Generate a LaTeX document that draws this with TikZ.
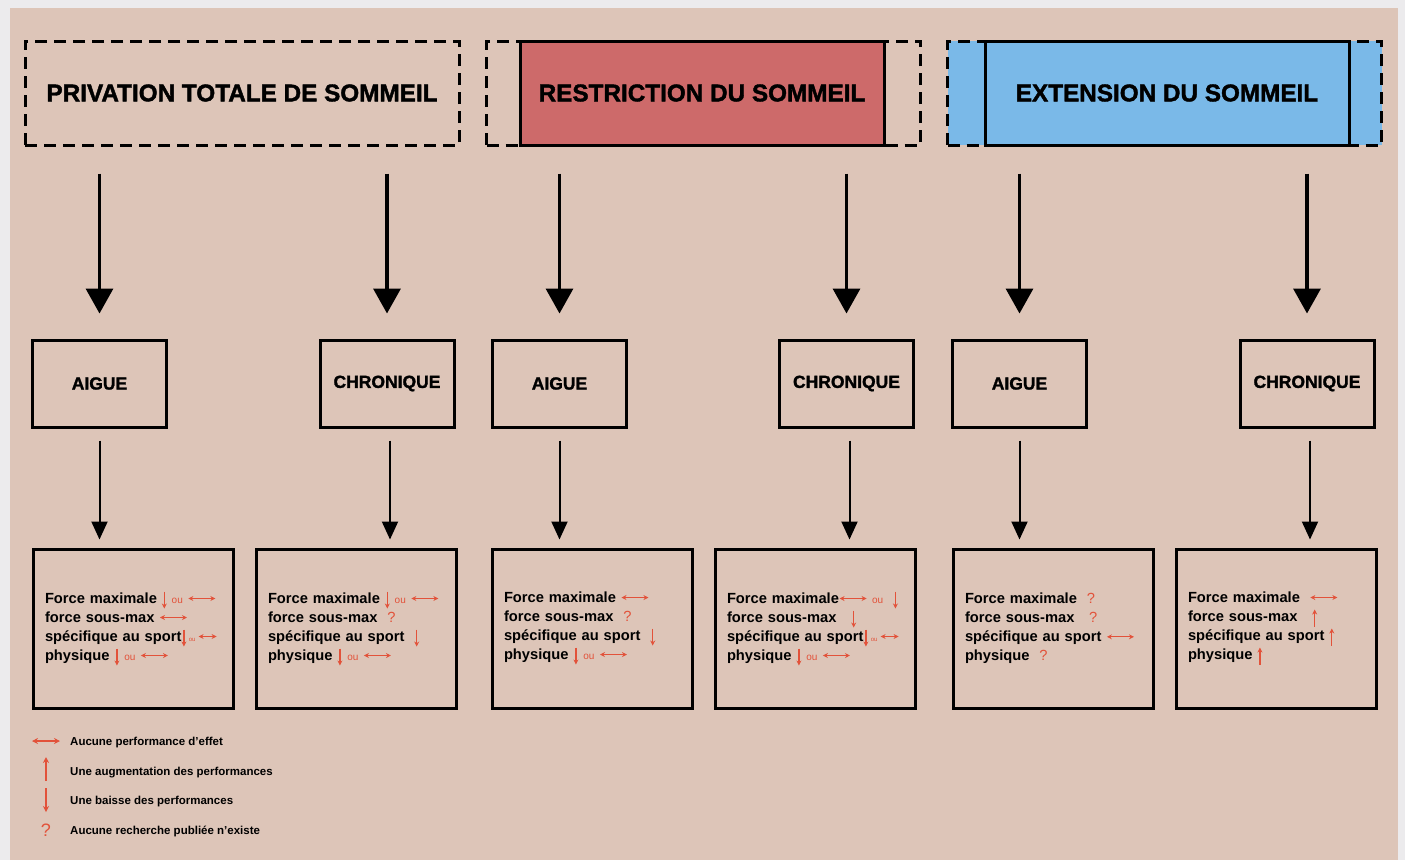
\documentclass[tikz,border=0pt]{standalone}
\usepackage{fontspec}
\setmainfont{Liberation Sans}
\newfontfamily\lourde[BoldFeatures={FakeBold=1.6}]{Liberation Sans}
\usepackage{tikz}
\usetikzlibrary{arrows.meta,positioning}
\definecolor{fond}{RGB}{221,197,184}
\definecolor{cadre}{RGB}{236,235,237}
\definecolor{rouge}{RGB}{205,106,106}
\definecolor{bleu}{RGB}{122,185,232}
\definecolor{symred}{RGB}{226,82,58}
\tikzstyle{hdrdash} = [rectangle, draw=black, line width=3pt, dash pattern=on 12pt off 7pt,
    minimum width=434pt, minimum height=104pt, font=\lourde\bfseries\fontsize{24.3}{28}\selectfont]
\tikzstyle{hdrsolid} = [rectangle, draw=black, line width=3pt,
    minimum width=364pt, minimum height=104pt, font=\lourde\bfseries\fontsize{24.3}{28}\selectfont]
\tikzstyle{duree} = [rectangle, draw=black, line width=3pt, minimum width=134pt,
    minimum height=87pt, font=\lourde\bfseries\fontsize{17.5}{20}\selectfont]
\tikzstyle{effet} = [rectangle, draw=black, line width=3pt, minimum height=159pt,
    text width=176pt, inner xsep=12pt, align=left, font=\bfseries\fontsize{14.7}{19}\selectfont]
\tikzstyle{grosse} = [line width=3.5pt, -{Triangle[length=25pt,width=27pt]}]
\tikzstyle{fine} = [line width=2pt, -{Triangle[length=18pt,width=16pt]}]
\tikzstyle{symb} = [draw=symred, line width=1.2pt]
\tikzstyle{legende} = [anchor=west, inner sep=0pt, font=\bfseries\fontsize{11.5}{13}\selectfont]
% petits symboles rouges
\newcommand{\bas}{\tikz[baseline=0pt]\draw[symb,-{Stealth[length=5pt,width=5pt]}] (0pt,12pt)--(0pt,-5pt);}
\newcommand{\haut}{\tikz[baseline=0pt]\draw[symb,-{Stealth[length=5pt,width=5pt]}] (0pt,-5pt)--(0pt,12pt);}
\newcommand{\egal}[1][27pt]{\tikz[baseline=0pt]\draw[symb,{Stealth[length=5pt,width=5pt]}-{Stealth[length=5pt,width=5pt]}] (0pt,5pt)--(#1,5pt);}
\newcommand{\ou}{{\color{symred}\mdseries\fontsize{10}{10}\selectfont ou}}
\newcommand{\nsp}{{\color{symred}\mdseries ?}}
\begin{document}
\begin{tikzpicture}[x=1pt,y=-1pt]
\fill[cadre] (0,0) rectangle (1405,860);
\fill[fond] (10,8) rectangle (1398,860);

% les trois en-tetes
\node[hdrdash] (privation) at (242,93) {PRIVATION TOTALE DE SOMMEIL};
\node[hdrdash] (restrOut) at (703.5,93) {};
\node[hdrsolid, fill=rouge] (restriction) at (702,93) {RESTRICTION DU SOMMEIL};
\node[hdrdash, fill=bleu] (extOut) at (1164.5,93) {};
\node[hdrsolid, fill=bleu] (extension) at (1167,93) {EXTENSION DU SOMMEIL};

% aigue / chronique
\node[duree] (aig1) at (99.5,383.5) {AIGUE};
\node[duree] (chro1) at (387,383.5) {CHRONIQUE};
\node[duree] (aig2) at (559.5,383.5) {AIGUE};
\node[duree] (chro2) at (846.5,383.5) {CHRONIQUE};
\node[duree] (aig3) at (1019.5,383.5) {AIGUE};
\node[duree] (chro3) at (1307,383.5) {CHRONIQUE};

% effets sur la force
\node[effet] (res1) at (133,628.5) {Force maximale \bas\ \ou\ \egal\\
    force sous-max \egal\\
    spécifique au sport\bas\,{\color{symred}\mdseries\fontsize{6}{6}\selectfont ou}\,\egal[18pt]\\
    physique \bas\ \ou\ \egal};
\node[effet] (res2) at (356,628.5) {Force maximale \bas\ \ou\ \egal\\
    force sous-max \ \nsp\\
    spécifique au sport \ \bas\\
    physique \bas\ \ou\ \egal};
\node[effet] (res3) at (592,628.5) {Force maximale \egal\\
    force sous-max \ \nsp\\
    spécifique au sport \ \bas\\
    physique \bas\ \ou\ \egal};
\node[effet] (res4) at (815,628.5) {Force maximale\egal\ \ou\ \ \bas\\
    force sous-max \ \ \bas\\
    spécifique au sport\bas\,{\color{symred}\mdseries\fontsize{6}{6}\selectfont ou}\,\egal[18pt]\\
    physique \bas\ \ou\ \egal};
\node[effet] (res5) at (1053,628.5) {Force maximale \ \nsp\\
    force sous-max \ \ \nsp\\
    spécifique au sport \egal\\
    physique \ \nsp};
\node[effet] (res6) at (1276,628.5) {Force maximale \ \egal\\
    force sous-max \ \ \haut\\
    spécifique au sport \haut\\
    physique \haut};

% fleches
\draw[grosse, shorten <=27pt, shorten >=25pt] (aig1.north |- privation.south) -- (aig1.north);
\draw[grosse, shorten <=27pt, shorten >=25pt] (chro1.north |- privation.south) -- (chro1.north);
\draw[grosse, shorten <=27pt, shorten >=25pt] (aig2.north |- restriction.south) -- (aig2.north);
\draw[grosse, shorten <=27pt, shorten >=25pt] (chro2.north |- restriction.south) -- (chro2.north);
\draw[grosse, shorten <=27pt, shorten >=25pt] (aig3.north |- extension.south) -- (aig3.north);
\draw[grosse, shorten <=27pt, shorten >=25pt] (chro3.north |- extension.south) -- (chro3.north);

\draw[fine, shorten <=12pt, shorten >=8pt] (aig1.south) -- (aig1.south |- res1.north);
\draw[fine, shorten <=12pt, shorten >=8pt] ([xshift=3pt]chro1.south) -- ([xshift=3pt]chro1.south |- res2.north);
\draw[fine, shorten <=12pt, shorten >=8pt] (aig2.south) -- (aig2.south |- res3.north);
\draw[fine, shorten <=12pt, shorten >=8pt] ([xshift=3pt]chro2.south) -- ([xshift=3pt]chro2.south |- res4.north);
\draw[fine, shorten <=12pt, shorten >=8pt] (aig3.south) -- (aig3.south |- res5.north);
\draw[fine, shorten <=12pt, shorten >=8pt] ([xshift=3pt]chro3.south) -- ([xshift=3pt]chro3.south |- res6.north);

% legende
\draw[symb, line width=1.4pt, {Stealth[length=6pt,width=6pt]}-{Stealth[length=6pt,width=6pt]}] (32,741) -- (60,741);
\draw[symb, line width=1.4pt, -{Stealth[length=6pt,width=6pt]}] (46,781) -- (46,757);
\draw[symb, line width=1.4pt, -{Stealth[length=6pt,width=6pt]}] (46,788) -- (46,812);
\node[text=symred, font=\fontsize{18}{18}\selectfont] (qm) at (46,830) {?};
\node[legende] (leg1) at (70,743) {Aucune performance d'effet};
\node[legende] (leg2) at (70,773) {Une augmentation des performances};
\node[legende] (leg3) at (70,802) {Une baisse des performances};
\node[legende] (leg4) at (70,831) {Aucune recherche publiée n'existe};
\end{tikzpicture}
\end{document}
